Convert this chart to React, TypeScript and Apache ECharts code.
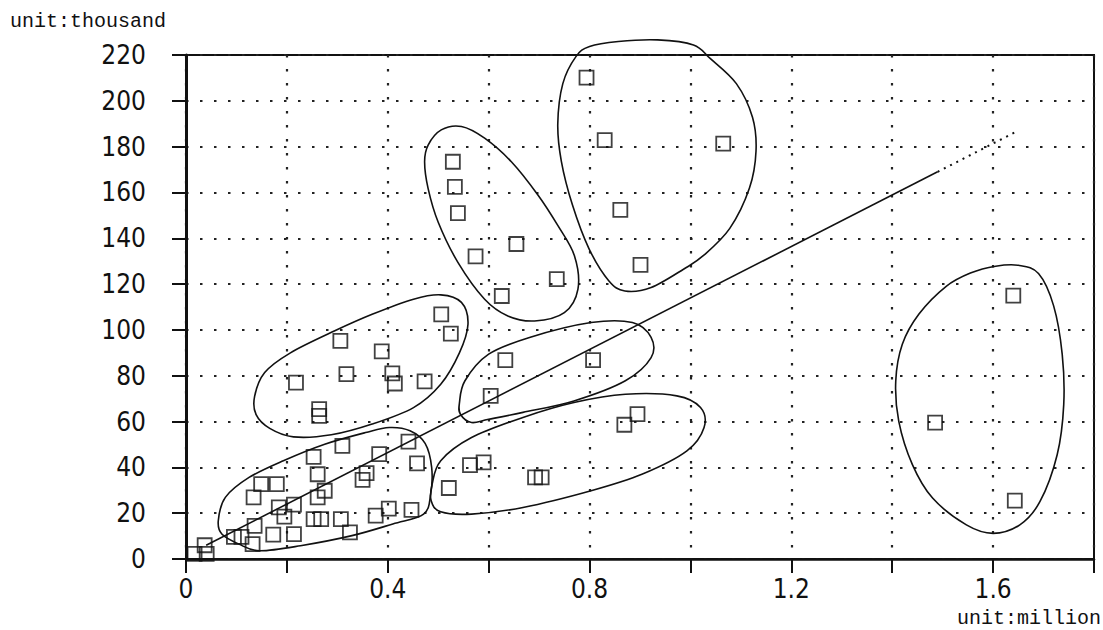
import React, { useEffect, useRef } from "react";
import * as echarts from "echarts";

// ---- data (x: million, y: thousand) ----
const clusterA: number[][] = [
  [0.017, 2.2], [0.041, 2.2], [0.037, 6], [0.095, 9.7], [0.11, 9.7], [0.132, 6.5], [0.136, 14.5],
  [0.173, 10.6], [0.214, 10.9], [0.325, 11.6], [0.195, 18.5], [0.184, 22.5], [0.214, 23.7],
  [0.253, 17.4], [0.268, 17.4], [0.307, 17.4], [0.376, 18.9], [0.402, 22], [0.447, 21.4],
  [0.134, 26.9], [0.149, 32.7], [0.18, 32.7], [0.261, 26.9], [0.275, 29.8], [0.261, 37],
  [0.35, 34.5], [0.358, 37.5], [0.458, 41.7], [0.253, 44.6], [0.383, 45.8], [0.31, 49.4], [0.441, 51.2],
];
const clusterB: number[][] = [
  [0.218, 77], [0.264, 65.4], [0.264, 62.5], [0.306, 95.2], [0.318, 80.7], [0.388, 90.6],
  [0.409, 81], [0.414, 76.6], [0.473, 77.5], [0.506, 106.8], [0.525, 98.4],
];
const clusterC: number[][] = [[0.604, 71.2], [0.633, 86.8], [0.807, 86.8]];
const clusterD: number[][] = [
  [0.521, 31], [0.563, 41], [0.59, 42.2], [0.692, 35.6], [0.705, 35.6], [0.869, 58.6], [0.895, 63.2],
];
const clusterE: number[][] = [
  [0.529, 173.4], [0.533, 162.4], [0.539, 151], [0.574, 132.1], [0.655, 137.5], [0.735, 122.2], [0.626, 114.8],
];
const clusterF: number[][] = [[0.794, 210.1], [0.83, 182.8], [1.065, 181.3], [0.861, 152.4], [0.901, 128.4]];
const clusterG: number[][] = [[1.64, 115], [1.485, 59.5], [1.643, 25.5]];

// hand-drawn cluster outlines (data coordinates)
const outlineA: number[][] = [
  [0.275, 50.1], [0.356, 55.2], [0.403, 57.4], [0.444, 56], [0.474, 50.5], [0.487, 40], [0.485, 28.3],
  [0.471, 19.6], [0.41, 15.3], [0.329, 10.2], [0.227, 5.8], [0.146, 3.6], [0.105, 6.5], [0.071, 10.9],
  [0.064, 16.7], [0.078, 26.9], [0.125, 35.6], [0.193, 42.9],
];
const outlineB: number[][] = [
  [0.295, 99.6], [0.369, 106.8], [0.451, 113.4], [0.505, 115.3], [0.546, 112], [0.559, 102.5],
  [0.542, 90], [0.505, 76.3], [0.451, 66.1], [0.369, 58.9], [0.288, 54.2], [0.213, 53.3],
  [0.166, 57], [0.139, 63], [0.136, 71], [0.156, 81.4], [0.207, 90],
];
const outlineC: number[][] = [
  [0.681, 96.7], [0.803, 103.2], [0.885, 103.2], [0.922, 96.7], [0.922, 87.9], [0.871, 77.8],
  [0.769, 69], [0.668, 64], [0.6, 61], [0.566, 59.6], [0.544, 63.2], [0.542, 68], [0.553, 77.8], [0.6, 89.4],
];
const outlineD: number[][] = [
  [0.668, 61.8], [0.769, 68.3], [0.871, 71.9], [0.973, 71.2], [1.02, 66.1], [1.027, 57.4], [0.993, 47.2],
  [0.905, 37.1], [0.803, 29.8], [0.668, 22.5], [0.566, 19.6], [0.505, 20.6], [0.486, 25.4],
  [0.488, 32.7], [0.505, 42.9], [0.566, 53],
];
const outlineE: number[][] = [
  [0.546, 188.8], [0.592, 183.7], [0.645, 173.4], [0.698, 158.8], [0.737, 145.6], [0.77, 132.4],
  [0.777, 117.8], [0.75, 107.5], [0.691, 103.9], [0.638, 106.1], [0.592, 113.4], [0.539, 129.5],
  [0.5, 147], [0.48, 161.7], [0.473, 173.4], [0.48, 180.7], [0.506, 187.3],
];
const outlineF: number[][] = [
  [0.935, 226.6], [1.006, 224.4], [1.039, 218.5], [1.091, 207.5], [1.123, 192.8], [1.13, 178.1],
  [1.117, 161.9], [1.078, 144.3], [1.026, 132.5], [0.987, 126.6], [0.922, 118.5], [0.87, 117],
  [0.838, 121.5], [0.799, 135.4], [0.766, 154.6], [0.744, 173.7], [0.737, 189.9], [0.747, 207.5],
  [0.773, 219.3], [0.8, 223.7], [0.857, 225.9],
];
const outlineG: number[][] = [
  [1.737, 89.3], [1.74, 67.4], [1.727, 45.5], [1.693, 25.1], [1.653, 14.9], [1.6, 11.2], [1.547, 14.9],
  [1.48, 26.6], [1.44, 41.2], [1.413, 60.1], [1.407, 77.7], [1.42, 93.7], [1.453, 106.9], [1.507, 119],
  [1.555, 124.8], [1.605, 127.8], [1.65, 128.2], [1.69, 124.6], [1.72, 110.5],
];

// regression line
const trendSolid: number[][] = [[0.04, 6], [1.49, 169]];
const trendDotted: number[][] = [[1.49, 169], [1.65, 187]];

// axis
const xLabelValues = [0, 0.4, 0.8, 1.2, 1.6];
const xAxisRange = { min: 0, max: 1.8, interval: 0.2 };
const yAxisRange = { min: 0, max: 220, interval: 20 };

const INK = "#111";
const tickFont = "'Liberation Sans Narrow', 'DejaVu Sans Condensed', 'Noto Sans', sans-serif";
const unitFont = "'Liberation Mono', 'DejaVu Sans Mono', monospace";

// closed Catmull-Rom spline through pixel points
function closedSpline(pts: number[][]): string {
  const n = pts.length;
  let d = `M${pts[0][0]},${pts[0][1]}`;
  for (let i = 0; i < n; i++) {
    const p0 = pts[(i - 1 + n) % n];
    const p1 = pts[i];
    const p2 = pts[(i + 1) % n];
    const p3 = pts[(i + 2) % n];
    const c1x = p1[0] + (p2[0] - p0[0]) / 6;
    const c1y = p1[1] + (p2[1] - p0[1]) / 6;
    const c2x = p2[0] - (p3[0] - p1[0]) / 6;
    const c2y = p2[1] - (p3[1] - p1[1]) / 6;
    d += ` C${c1x},${c1y} ${c2x},${c2y} ${p2[0]},${p2[1]}`;
  }
  return d + " Z";
}

export default function App() {
  const ref = useRef<HTMLDivElement>(null);
  useEffect(() => {
    if (!ref.current) return;
    const chart = echarts.init(ref.current, null, { renderer: "svg" });
    const clusters = [clusterA, clusterB, clusterC, clusterD, clusterE, clusterF, clusterG];
    const outlines = [outlineA, outlineB, outlineC, outlineD, outlineE, outlineF, outlineG];
    const dotted = { type: [2.5, 11.5] as number[], color: "#222", width: 2.2, cap: "butt" };
    chart.setOption({
      animation: false,
      backgroundColor: "#fff",
      grid: {
        left: 186, right: 9, top: 55, bottom: 71,
        show: true, borderColor: INK, borderWidth: 2, backgroundColor: "transparent",
      },
      xAxis: {
        type: "value",
        ...xAxisRange,
        axisLine: { show: true, onZero: false, lineStyle: { color: INK, width: 2.5 } },
        axisTick: { show: true, length: 14, lineStyle: { color: INK, width: 2 } },
        splitLine: { show: true, lineStyle: dotted },
        axisLabel: {
          color: INK, fontFamily: tickFont, fontSize: 26, margin: 17,
          formatter: (v: number) =>
            xLabelValues.some((t) => Math.abs(t - v) < 1e-6) ? String(Math.round(v * 10) / 10) : "",
        },
      },
      yAxis: {
        type: "value",
        ...yAxisRange,
        axisLine: { show: true, onZero: false, lineStyle: { color: INK, width: 3 } },
        axisTick: { show: true, length: 14, lineStyle: { color: INK, width: 2 } },
        splitLine: { show: true, lineStyle: dotted },
        axisLabel: { color: INK, fontFamily: tickFont, fontSize: 26, margin: 40 },
      },
      graphic: [
        {
          type: "text", left: 10, top: 11,
          style: { text: "unit:thousand", fill: INK, font: `20px ${unitFont}` },
        },
        {
          type: "text", right: 2, top: 608,
          style: { text: "unit:million", fill: INK, font: `20px ${unitFont}` },
        },
      ],
      series: [
        ...outlines.map((o) => ({
          type: "custom",
          coordinateSystem: "cartesian2d",
          data: [o[0]],
          clip: false,
          silent: true,
          z: 2,
          renderItem: (_params: any, api: any) => {
            const pts = o.map((p) => api.coord(p));
            return {
              type: "path",
              shape: { pathData: closedSpline(pts) },
              style: { fill: "none", stroke: INK, lineWidth: 1.6 },
            };
          },
        })),
        {
          type: "line", data: trendSolid, symbol: "none", silent: true,
          lineStyle: { color: INK, width: 1.6 }, z: 2,
        },
        {
          type: "line", data: trendDotted, symbol: "none", silent: true,
          lineStyle: { color: INK, width: 2, type: [2, 5] }, z: 2,
        },
        ...clusters.map((c) => ({
          type: "scatter",
          data: c,
          symbol: "rect",
          symbolSize: 14,
          silent: true,
          itemStyle: { color: "rgba(255,255,255,0)", borderColor: INK, borderWidth: 1.8 },
          z: 3,
        })),
      ],
    });
    return () => chart.dispose();
  }, []);
  return (
    <div
      ref={ref}
      style={{ position: "fixed", left: 0, top: 0, width: 1103, height: 630, background: "#fff" }}
    />
  );
}
